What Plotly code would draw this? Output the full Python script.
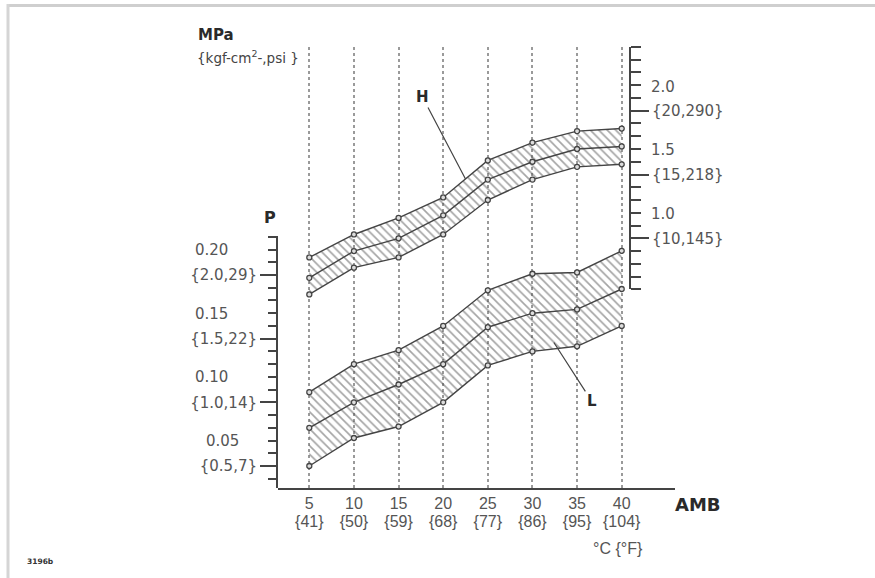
import plotly.graph_objects as go

# ---------------- data ----------------
temp_c = [5, 10, 15, 20, 25, 30, 35, 40]
temp_f = [41, 50, 59, 68, 77, 86, 95, 104]

# High-side pressure band H (MPa, right scale)
h_upper = [0.85, 1.03, 1.16, 1.32, 1.61, 1.75, 1.84, 1.86]
h_mid = [0.69, 0.90, 1.00, 1.18, 1.46, 1.60, 1.70, 1.72]
h_lower = [0.56, 0.77, 0.85, 1.03, 1.30, 1.46, 1.56, 1.58]

# Low-side pressure band L (MPa, left scale)
l_upper = [0.108, 0.130, 0.141, 0.160, 0.188, 0.201, 0.202, 0.219]
l_mid = [0.080, 0.100, 0.114, 0.130, 0.159, 0.170, 0.173, 0.189]
l_lower = [0.050, 0.072, 0.081, 0.100, 0.129, 0.140, 0.144, 0.160]

p_ticks = [0.05, 0.10, 0.15, 0.20]
p_tick_top = ["0.05", "0.10", "0.15", "0.20"]
p_tick_bottom = ["{0.5,7}", "{1.0,14}", "{1.5,22}", "{2.0,29}"]

mpa_ticks = [1.0, 1.5, 2.0]
mpa_tick_top = ["1.0", "1.5", "2.0"]
mpa_tick_bottom = ["{10,145}", "{15,218}", "{20,290}"]

# ---------------- geometry (pixels of the 875x578 page) ----------------
W, H = 875, 578


def fx(px):
    return px / W


def fy(py):
    return 1 - py / H


# x axis: 5 C at 309.3 px, 40 C at 621.7 px, axis line 278..675
X5_PX, X40_PX = 309.3, 621.7
x_scale = (X40_PX - X5_PX) / 35.0
X_LEFT, X_RIGHT = 278.0, 675.0
x_range = [5 - (X5_PX - X_LEFT) / x_scale, 40 + (X_RIGHT - X40_PX) / x_scale]

BOTTOM_PX = 488.0
# left (L) scale: 0.20 at 275 px, 0.05 at 466 px
l_scale = (466.0 - 275.0) / 0.15
L_TOP_PX = 236.0
l_range = [0.20 - (BOTTOM_PX - 275.0) / l_scale, 0.20 + (275.0 - L_TOP_PX) / l_scale]

# right (H) scale: 2.0 at 110.7 px, 1.0 at 238.3 px
h_scale = (238.3 - 110.7) / 1.0
h_axis_range = [0.6, 2.5]
TOP_PX = 110.7 - (2.5 - 2.0) * h_scale
H_AX_BOTTOM_PX = 110.7 + (2.0 - 0.6) * h_scale
h_full_range = [2.0 - (BOTTOM_PX - 110.7) / h_scale, 2.5]
RIGHT_AXIS_PX = 630.0

LINE = "#444444"
TXT = "#555555"
TICKFONT = dict(family="DejaVu Sans", size=15, color=TXT)
HATCH = dict(shape="\\", size=6, solidity=0.28,
             fgcolor="#4a4a4a", bgcolor="rgba(0,0,0,0)")

fig = go.Figure()

# ---- H band (on main full-height axis, MPa) ----
fig.add_trace(go.Scatter(
    x=temp_c + temp_c[::-1], y=h_upper + h_lower[::-1],
    xaxis="x", yaxis="y", mode="lines", fill="toself",
    fillcolor="rgba(0,0,0,0)", line=dict(width=0), fillpattern=HATCH,
    hoverinfo="skip", showlegend=False))
for ys in (h_upper, h_mid, h_lower):
    fig.add_trace(go.Scatter(
        x=temp_c, y=ys, xaxis="x", yaxis="y", mode="lines+markers",
        line=dict(color=LINE, width=1.4),
        marker=dict(symbol="circle", size=5, color="#dddddd",
                    line=dict(color=LINE, width=1.3)),
        showlegend=False))

# ---- L band (on left visible axis) ----
fig.add_trace(go.Scatter(
    x=temp_c + temp_c[::-1], y=l_upper + l_lower[::-1],
    xaxis="x2", yaxis="y3", mode="lines", fill="toself",
    fillcolor="rgba(0,0,0,0)", line=dict(width=0), fillpattern=HATCH,
    hoverinfo="skip", showlegend=False))
for ys in (l_upper, l_mid, l_lower):
    fig.add_trace(go.Scatter(
        x=temp_c, y=ys, xaxis="x2", yaxis="y3", mode="lines+markers",
        line=dict(color=LINE, width=1.4),
        marker=dict(symbol="circle", size=5, color="#dddddd",
                    line=dict(color=LINE, width=1.3)),
        showlegend=False))

# empty trace so the right-hand scale gets its own subplot
fig.add_trace(go.Scatter(x=[None], y=[None], xaxis="x2", yaxis="y4",
                         mode="lines", showlegend=False, hoverinfo="skip"))

fig.update_layout(
    width=W, height=H,
    margin=dict(l=0, r=0, t=0, b=0),
    paper_bgcolor="white", plot_bgcolor="rgba(0,0,0,0)",
    showlegend=False,
    xaxis=dict(
        domain=[fx(X_LEFT), fx(X_RIGHT)], range=x_range, anchor="y",
        showline=True, linecolor=LINE, linewidth=2, ticks="",
        tickmode="array", tickvals=temp_c, ticktext=[str(c) for c in temp_c],
        tickfont=dict(family="Liberation Sans", size=16, color=TXT),
        showgrid=True, gridcolor="#9a9a9a", griddash="dot", gridwidth=1.5,
        zeroline=False, fixedrange=True),
    xaxis2=dict(
        overlaying="x", range=x_range, anchor="y", side="bottom",
        showline=False, showgrid=False, zeroline=False, ticks="",
        tickmode="array", tickvals=temp_c,
        ticktext=["{%d}" % f for f in temp_f],
        ticklabelstandoff=22,
        tickfont=dict(family="Liberation Sans", size=16, color=TXT)),
    yaxis=dict(
        domain=[fy(BOTTOM_PX), fy(TOP_PX)], range=h_full_range,
        visible=False, showgrid=False, zeroline=False),
    yaxis3=dict(
        domain=[fy(BOTTOM_PX), fy(L_TOP_PX)], range=l_range, anchor="x2",
        side="left", showline=True, linecolor=LINE, linewidth=2,
        ticks="outside", ticklen=16, tickwidth=1.5, tickcolor=LINE,
        tickmode="array", tickvals=p_ticks, ticktext=p_tick_bottom,
        tickfont=TICKFONT,
        minor=dict(tickmode="linear", tick0=0, dtick=0.01, ticks="outside",
                   ticklen=8, tickwidth=1.5, tickcolor=LINE),
        showgrid=False, zeroline=False),
    yaxis4=dict(
        domain=[fy(H_AX_BOTTOM_PX), fy(TOP_PX)], range=h_axis_range,
        anchor="free", position=fx(RIGHT_AXIS_PX), side="right",
        showline=True, linecolor=LINE, linewidth=2,
        ticks="outside", ticklen=18, tickwidth=1.5, tickcolor=LINE,
        tickmode="array", tickvals=mpa_ticks, ticktext=mpa_tick_bottom,
        tickfont=TICKFONT,
        minor=dict(tickmode="linear", tick0=0, dtick=0.1, ticks="outside",
                   ticklen=10, tickwidth=1.5, tickcolor=LINE),
        showgrid=False, zeroline=False),
)

ann = []
# upper lines of the two-line tick labels on the left scale
left_label_edges_px = [204, 193, 193, 193]
for v, t, ex in zip(p_ticks, p_tick_top, left_label_edges_px):
    ann.append(dict(x=fx(ex), xref="paper", y=v, yref="y3", yshift=25,
                    text=t, showarrow=False, xanchor="left", yanchor="middle",
                    font=TICKFONT))
# upper lines of the two-line tick labels on the right scale
for v, t in zip(mpa_ticks, mpa_tick_top):
    ann.append(dict(x=fx(RIGHT_AXIS_PX), xref="paper", xshift=19, y=v, yref="y4",
                    yshift=24, text=t, showarrow=False, xanchor="left",
                    yanchor="middle", font=TICKFONT))

BOLD = dict(family="DejaVu Sans", color="#2a2a2a")
ann += [
    dict(x=fx(196), y=fy(35), xref="paper", yref="paper", text="<b>MPa</b>",
         showarrow=False, xanchor="left", yanchor="middle",
         font=dict(BOLD, size=15)),
    dict(x=fx(195), y=fy(57), xref="paper", yref="paper",
         text="{kgf-cm<sup>2</sup>-,psi }", showarrow=False,
         xanchor="left", yanchor="middle",
         font=dict(family="DejaVu Sans", size=13.5, color="#444444")),
    dict(x=fx(270), y=fy(217), xref="paper", yref="paper", text="<b>P</b>",
         showarrow=False, xanchor="center", yanchor="middle",
         font=dict(BOLD, size=16)),
    dict(x=fx(698), y=fy(504), xref="paper", yref="paper", text="<b>AMB</b>",
         showarrow=False, xanchor="center", yanchor="middle",
         font=dict(BOLD, size=18)),
    dict(x=fx(618), y=fy(548), xref="paper", yref="paper", text="°C {°F}",
         showarrow=False, xanchor="center", yanchor="middle",
         font=dict(family="Liberation Sans", size=16, color=TXT)),
    dict(x=fx(40), y=fy(561), xref="paper", yref="paper", text="<b>3196b</b>",
         showarrow=False, xanchor="center", yanchor="middle",
         font=dict(family="DejaVu Sans", size=7.5, color="#333333")),
    # leader for H
    dict(x=22.5, xref="x", y=(h_upper[3] + h_upper[4]) / 2, yref="y",
         text="<b>H</b>", showarrow=True, arrowhead=0, arrowwidth=1.2,
         arrowcolor=LINE, ax=-43, ay=-82, font=dict(BOLD, size=15)),
    # leader for L
    dict(x=32.4, xref="x", y=0.147, yref="y3",
         text="<b>L</b>", showarrow=True, arrowhead=0, arrowwidth=1.2,
         arrowcolor=LINE, ax=38, ay=59, font=dict(BOLD, size=15)),
]
fig.update_layout(annotations=ann)

# page frame (grey border at top and left)
fig.update_layout(shapes=[
    dict(type="line", xref="paper", yref="paper", x0=fx(7), x1=1,
         y0=fy(5.5), y1=fy(5.5), line=dict(color="#cfcfcf", width=3)),
    dict(type="line", xref="paper", yref="paper", x0=fx(8), x1=fx(8),
         y0=fy(4), y1=0, line=dict(color="#d5d5d5", width=3)),
])

fig.write_html("out.html", config={"displayModeBar": False},
               post_script="document.body.style.margin='0px';")
